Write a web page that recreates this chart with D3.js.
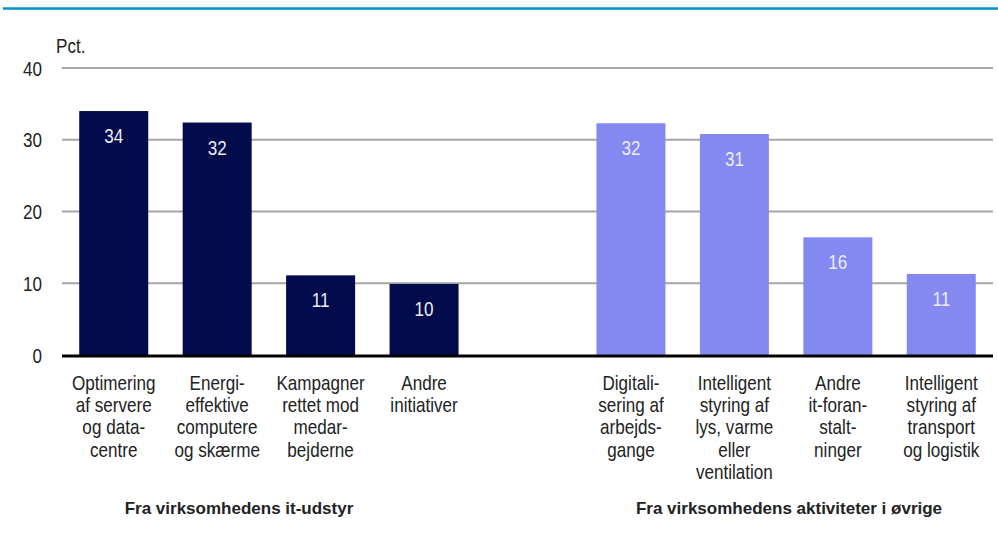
<!DOCTYPE html>
<html>
<head>
<meta charset="utf-8">
<script src="https://cdn.jsdelivr.net/npm/d3@7"></script>
<style>
  body { margin: 0; background: #fff; }
  svg { display: block; }
</style>
</head>
<body>
<script>
  const width = 998, height = 542;

  // kategorier (tom plads i midten mellem de to grupper)
  const categories = ["c1", "c2", "c3", "c4", "gap", "c5", "c6", "c7", "c8"];
  const labels = [
    ["Optimering", "af servere", "og data-", "centre"],
    ["Energi-", "effektive", "computere", "og skærme"],
    ["Kampagner", "rettet mod", "medar-", "bejderne"],
    ["Andre", "initiativer"],
    [],
    ["Digitali-", "sering af", "arbejds-", "gange"],
    ["Intelligent", "styring af", "lys, varme", "eller", "ventilation"],
    ["Andre", "it-foran-", "stalt-", "ninger"],
    ["Intelligent", "styring af", "transport", "og logistik"]
  ];
  const values = [34.0, 32.4, 11.1, 9.9, null, 32.3, 30.8, 16.4, 11.3];
  const valueLabels = ["34", "32", "11", "10", "", "32", "31", "16", "11"];
  const groupColor = ["dark", "dark", "dark", "dark", "", "light", "light", "light", "light"];
  const yTicks = [0, 10, 20, 30, 40];
  const groups = ["Fra virksomhedens it-udstyr", "Fra virksomhedens aktiviteter i øvrige"];

  const colors = { dark: "#020b4b", light: "#8489f2" };
  const font = "'Liberation Sans', Arial, sans-serif";
  const fs = 20, sx = 0.855; // smal skrift: skaleres vandret

  const svg = d3.select("body").append("svg")
      .attr("width", width)
      .attr("height", height)
      .attr("font-family", font);

  // blå linje i toppen
  svg.append("line")
      .attr("x1", 3).attr("x2", width)
      .attr("y1", 8.5).attr("y2", 8.5)
      .attr("stroke", "#0090d0")
      .attr("stroke-width", 2.5);

  const x = d3.scaleBand()
      .domain(categories)
      .range([62, 993])
      .paddingInner(0.333)
      .paddingOuter(0.1665);

  const y = d3.scaleLinear()
      .domain([0, 40])
      .range([355, 68]);

  const narrow = (px, py) => `translate(${px},${py}) scale(${sx},1)`;

  // gitterlinjer
  svg.append("g")
    .selectAll("line")
    .data(yTicks.filter(d => d > 0))
    .join("line")
      .attr("x1", 62).attr("x2", 993)
      .attr("y1", d => y(d)).attr("y2", d => y(d))
      .attr("stroke", "#a6a6a6")
      .attr("stroke-width", 2);

  // y-akse tekst
  svg.append("g")
      .attr("font-size", fs)
      .attr("fill", "#222")
      .attr("text-anchor", "end")
    .selectAll("text")
    .data(yTicks)
    .join("text")
      .attr("transform", d => narrow(42, y(d) + 7.5))
      .text(d => d);

  svg.append("text")
      .attr("transform", narrow(56, 53))
      .attr("font-size", fs)
      .attr("fill", "#222")
      .text("Pct.");

  const idx = d3.range(categories.length).filter(i => values[i] !== null);
  const cx = i => x(categories[i]) + x.bandwidth() / 2;

  // søjler
  svg.append("g")
    .selectAll("rect")
    .data(idx)
    .join("rect")
      .attr("x", i => x(categories[i]))
      .attr("width", x.bandwidth())
      .attr("y", i => y(values[i]))
      .attr("height", i => y(0) - y(values[i]))
      .attr("fill", i => colors[groupColor[i]]);

  // værdier i søjlerne
  svg.append("g")
      .attr("font-size", fs)
      .attr("fill", "#ececf4")
      .attr("text-anchor", "middle")
    .selectAll("text")
    .data(idx)
    .join("text")
      .attr("transform", i => narrow(cx(i), y(values[i]) + 32))
      .text(i => valueLabels[i]);

  // x-akse linje
  svg.append("line")
      .attr("x1", 62).attr("x2", 993)
      .attr("y1", y(0) + 1).attr("y2", y(0) + 1)
      .attr("stroke", "#000")
      .attr("stroke-width", 3);

  // kategoritekster
  const cat = svg.append("g")
      .attr("font-size", fs)
      .attr("fill", "#222")
      .attr("text-anchor", "middle")
    .selectAll("text")
    .data(idx)
    .join("text")
      .attr("transform", i => narrow(cx(i), 389.5));

  cat.selectAll("tspan")
    .data(i => labels[i])
    .join("tspan")
      .attr("x", 0)
      .attr("y", (d, j) => j * 22.4)
      .text(d => d);

  // gruppe-tekster
  svg.append("g")
      .attr("font-size", 17)
      .attr("font-weight", "bold")
      .attr("fill", "#222")
      .attr("text-anchor", "middle")
    .selectAll("text")
    .data(groups)
    .join("text")
      .attr("x", (d, i) => i === 0 ? 239 : 789)
      .attr("y", 514)
      .text(d => d);
</script>
</body>
</html>
